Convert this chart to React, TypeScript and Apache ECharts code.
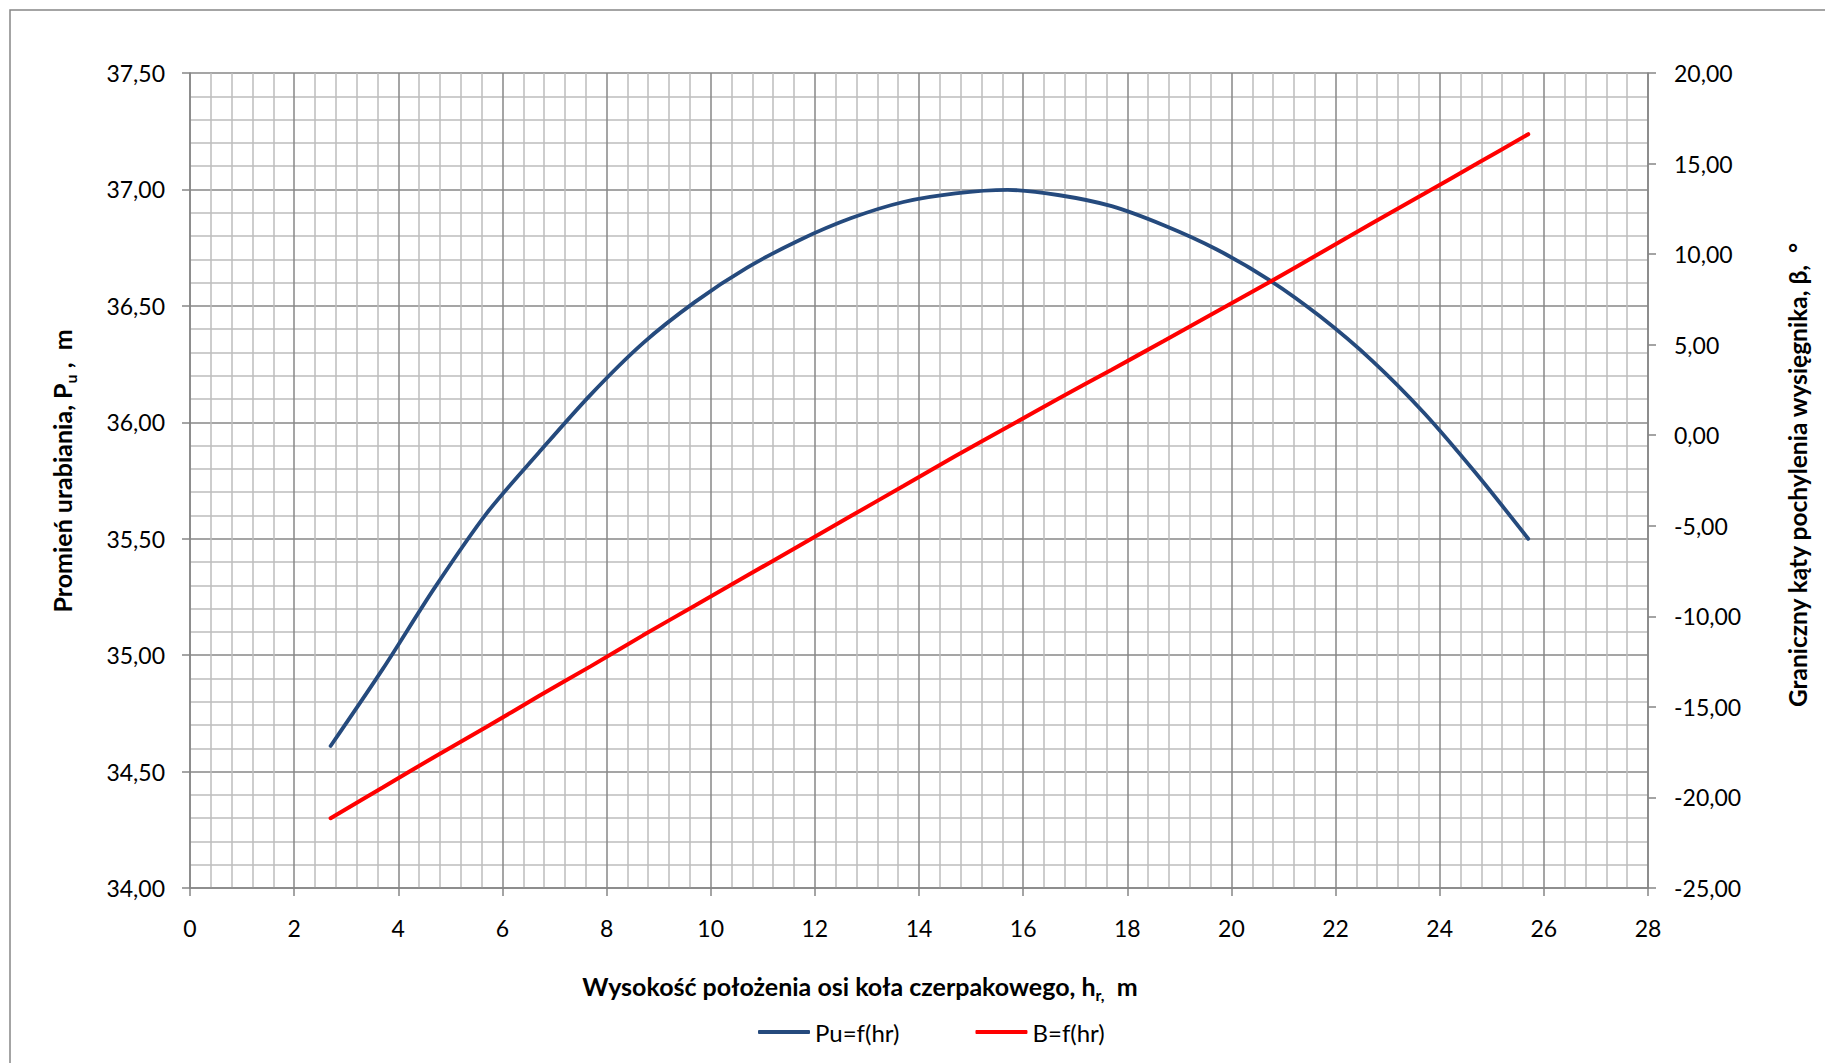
import React, { useEffect, useRef } from 'react';
import * as echarts from 'echarts';

// Wysokość położenia osi koła czerpakowego h_r [m]
const hr = [2.7, 3.7, 4.7, 5.7, 6.7, 7.7, 8.7, 9.7, 10.7, 11.7, 12.7, 13.7, 14.7, 15.7, 16.7, 17.7, 18.7, 19.7, 20.7, 21.7, 22.7, 23.7, 24.7, 25.7];
// Promień urabiania P_u [m]
const pu = [34.61, 34.94, 35.29, 35.61, 35.87, 36.12, 36.34, 36.517, 36.664, 36.782, 36.877, 36.946, 36.983, 36.998, 36.975, 36.928, 36.846, 36.744, 36.615, 36.455, 36.265, 36.04, 35.78, 35.5];
// Graniczny kąt pochylenia wysięgnika beta [°]
const beta = [-21.15, -19.45, -17.75, -16.1, -14.4, -12.75, -11.05, -9.4, -7.75, -6.1, -4.45, -2.8, -1.15, 0.45, 2.05, 3.62, 5.2, 6.8, 8.4, 10.05, 11.7, 13.33, 14.97, 16.62];

const seriesNames = ['Pu=f(hr)', 'B=f(hr)'];
const xRange = [0, 28, 2];
const leftRange = [34, 37.5, 0.5];
const rightRange = [-25, 20, 5];

export default function App() {
  const ref = useRef<HTMLDivElement>(null);
  useEffect(() => {
    const chart = echarts.init(ref.current as HTMLDivElement, null, { renderer: 'svg' });
    const font = 'Lato, "Open Sans", sans-serif';
    const fmt = (v: number) => v.toFixed(2).replace('.', ',');
    const axisGray = '#868686';
    const tickStyle = { show: true, inside: false, length: 8, lineStyle: { color: axisGray, width: 1.5 } };
    const lineStyleAxis = { show: true, onZero: false, lineStyle: { color: axisGray, width: 1.5 } };
    const labelBase = { fontSize: 23, color: '#000', fontFamily: font };
    const titleBold = { fontSize: 25, fontWeight: 'bold', fontFamily: font, fill: '#000' };
    const subBold = { fontSize: 16, fontWeight: 'bold', fontFamily: font, fill: '#000', verticalAlign: 'bottom', lineHeight: 16 };

    chart.setOption({
      animation: false,
      backgroundColor: '#ffffff',
      grid: { left: 190, right: 177, top: 73, bottom: 175, containLabel: false },
      xAxis: {
        type: 'value', min: xRange[0], max: xRange[1], interval: xRange[2],
        axisLine: lineStyleAxis,
        axisTick: tickStyle,
        axisLabel: { ...labelBase, margin: 28 },
        splitLine: { show: true, lineStyle: { color: '#878787', width: 1.5 } },
        minorTick: { show: false, splitNumber: 5 },
        minorSplitLine: { show: true, lineStyle: { color: '#bdbdbd', width: 1.5 } },
      },
      yAxis: [
        {
          type: 'value', position: 'left', min: leftRange[0], max: leftRange[1], interval: leftRange[2],
          axisLine: lineStyleAxis,
          axisTick: tickStyle,
          axisLabel: { ...labelBase, margin: 25, formatter: fmt },
          splitLine: { show: true, lineStyle: { color: '#878787', width: 1.5 } },
          minorTick: { show: false, splitNumber: 5 },
          minorSplitLine: { show: true, lineStyle: { color: '#bdbdbd', width: 1.5 } },
        },
        {
          type: 'value', position: 'right', min: rightRange[0], max: rightRange[1], interval: rightRange[2],
          axisLine: lineStyleAxis,
          axisTick: tickStyle,
          axisLabel: { ...labelBase, margin: 26, formatter: fmt },
          splitLine: { show: false },
        },
      ],
      legend: {
        left: 753, top: 1014,
        itemWidth: 52, itemHeight: 4, itemGap: 76,
        textStyle: { fontSize: 24, color: '#000', fontFamily: font, lineHeight: 26, padding: [0, 0, 0, 0] },
        data: [
          { name: seriesNames[0], icon: 'roundRect', itemStyle: { color: '#254a7d' } },
          { name: seriesNames[1], icon: 'roundRect', itemStyle: { color: '#ff0000' } },
        ],
      },
      series: [
        {
          type: 'line', name: seriesNames[0], yAxisIndex: 0,
          data: hr.map((x, i) => [x, pu[i]]),
          symbol: 'none', showSymbol: false, smooth: 0.3,
          lineStyle: { color: '#254a7d', width: 3.8, cap: 'round' },
          itemStyle: { color: '#254a7d' },
        },
        {
          type: 'line', name: seriesNames[1], yAxisIndex: 1,
          data: hr.map((x, i) => [x, beta[i]]),
          symbol: 'none', showSymbol: false, smooth: 0.3,
          lineStyle: { color: '#ff0000', width: 4, cap: 'round' },
          itemStyle: { color: '#ff0000' },
        },
      ],
      graphic: [
        {
          type: 'rect', silent: true, z: -1,
          shape: { x: 10, y: 10, width: 1840, height: 1080 },
          style: { fill: 'none', stroke: axisGray, lineWidth: 1.5 },
        },
        {
          type: 'text', x: 860, y: 986,
          style: {
            text: '{b|Wysokość położenia osi koła czerpakowego, h}{s|r,}{b|  m}',
            align: 'center', verticalAlign: 'middle',
            rich: { b: { ...titleBold, lineHeight: 32 }, s: subBold },
          },
        },
        {
          type: 'text', x: 62, y: 471, rotation: Math.PI / 2,
          style: {
            text: '{b|Promień urabiania, P}{s|u}{b| ,  m}',
            align: 'center', verticalAlign: 'middle',
            rich: { b: { ...titleBold, lineHeight: 32 }, s: subBold },
          },
        },
        {
          type: 'text', x: 1797, y: 475, rotation: Math.PI / 2,
          style: {
            text: 'Graniczny kąty pochylenia wysięgnika, β,  °',
            align: 'center', verticalAlign: 'middle',
            ...titleBold,
            fontSize: 24.5,
          },
        },
      ],
    });
    return () => chart.dispose();
  }, []);
  return <div ref={ref} style={{ position: 'absolute', left: 0, top: 0, width: 1825, height: 1063 }} />;
}
